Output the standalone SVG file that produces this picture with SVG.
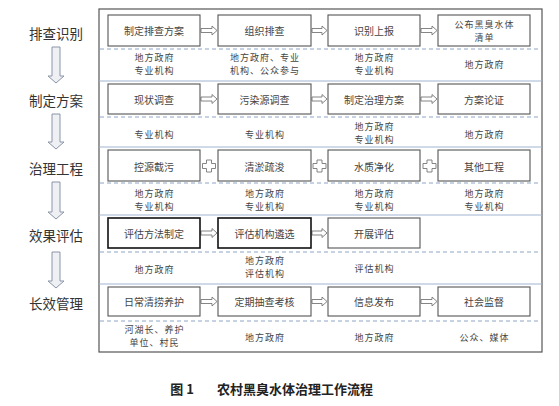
<svg xmlns="http://www.w3.org/2000/svg" width="559" height="406" viewBox="0 0 559 406">
<style>
text{font-family:"Noto Sans CJK SC","Noto Sans",sans-serif;text-anchor:middle;dominant-baseline:central;}
.lab{font-size:13.5px;fill:#333;}
.bt{font-size:10px;fill:#444;}
.bt2{font-size:9px;letter-spacing:1px;fill:#444;}
.st{font-size:9px;letter-spacing:1px;fill:#444;}
.box{fill:#fff;stroke:#555;stroke-width:1.1;}
.boxk{fill:#fff;stroke:#111;stroke-width:1.6;}
.sep{stroke:#9fb3cf;stroke-width:1;}
.dash{stroke:#8ea4c6;stroke-width:1;stroke-dasharray:4,3;}
.harr{fill:#fff;stroke:#777;stroke-width:0.9;}
.varr{fill:#eef0f4;stroke:#8a95a8;stroke-width:1;}
.cap{font-size:13px;fill:#222;font-weight:bold;}
</style>
<rect x="0" y="0" width="559" height="406" fill="#fff"/>
<rect x="99" y="9" width="443" height="343" fill="#fff" stroke="#555" stroke-width="1.2"/>
<g id="separators">
<line class="sep" x1="99" y1="81" x2="542" y2="81"/>
<line class="sep" x1="99" y1="147" x2="542" y2="147"/>
<line class="sep" x1="99" y1="215" x2="542" y2="215"/>
<line class="sep" x1="99" y1="284" x2="542" y2="284"/>
<line class="dash" x1="100" y1="49" x2="541" y2="49"/>
<line class="dash" x1="100" y1="117" x2="541" y2="117"/>
<line class="dash" x1="100" y1="183" x2="541" y2="183"/>
<line class="dash" x1="100" y1="252" x2="541" y2="252"/>
<line class="dash" x1="100" y1="321" x2="541" y2="321"/>
</g>
<g id="stages">
<text class="lab" x="56" y="33">排查识别</text>
<text class="lab" x="56" y="100">制定方案</text>
<text class="lab" x="56" y="168">治理工程</text>
<text class="lab" x="56" y="235">效果评估</text>
<text class="lab" x="56" y="303">长效管理</text>
</g>
<g id="connectors">
<path class="varr" d="M52,47 H60 V76 H64 L56,83 L48,76 H52 Z"/>
<path class="varr" d="M52,114 H60 V142 H64 L56,149 L48,142 H52 Z"/>
<path class="varr" d="M52,182 H60 V212 H64 L56,219 L48,212 H52 Z"/>
<path class="varr" d="M52,252 H60 V281 H64 L56,288 L48,281 H52 Z"/>
<path class="harr" d="M201,28.5 H212 V26 L217,30.5 L212,35 V32.5 H201 Z"/>
<path class="harr" d="M312,28.5 H322 V26 L327,30.5 L322,35 V32.5 H312 Z"/>
<path class="harr" d="M421,28.5 H432 V26 L437,30.5 L432,35 V32.5 H421 Z"/>
<path class="harr" d="M201,97 H212 V94.5 L217,99 L212,103.5 V101 H201 Z"/>
<path class="harr" d="M312,97 H322 V94.5 L327,99 L322,103.5 V101 H312 Z"/>
<path class="harr" d="M421,97 H432 V94.5 L437,99 L432,103.5 V101 H421 Z"/>
<path class="harr" d="M202.5,163.5 H206.5 V160 H211.5 V163.5 H215.5 V168.5 H211.5 V172 H206.5 V168.5 H202.5 Z"/>
<path class="harr" d="M313,163.5 H317 V160 H322 V163.5 H326 V168.5 H322 V172 H317 V168.5 H313 Z"/>
<path class="harr" d="M423,163.5 H427 V160 H432 V163.5 H436 V168.5 H432 V172 H427 V168.5 H423 Z"/>
<path class="harr" d="M201,231 H212 V228.5 L217,233 L212,237.5 V235 H201 Z"/>
<path class="harr" d="M312,231 H322 V228.5 L327,233 L322,237.5 V235 H312 Z"/>
<path class="harr" d="M201,299.5 H212 V297 L217,301.5 L212,306 V303.5 H201 Z"/>
<path class="harr" d="M312,299.5 H322 V297 L327,301.5 L322,306 V303.5 H312 Z"/>
<path class="harr" d="M421,299.5 H432 V297 L437,301.5 L432,306 V303.5 H421 Z"/>
</g>
<g id="r1n1"><rect class="box" x="108" y="15" width="92" height="31"/><text class="bt" x="154" y="30.5">制定排查方案</text></g>
<g id="r1n2"><rect class="box" x="218" y="15" width="93" height="31"/><text class="bt" x="264.5" y="30.5">组织排查</text></g>
<g id="r1n3"><rect class="box" x="328" y="15" width="92" height="31"/><text class="bt" x="374" y="30.5">识别上报</text></g>
<g id="r1n4"><rect class="box" x="438" y="15" width="92" height="31"/><text class="bt2" x="484.5" y="24">公布黑臭水体</text><text class="bt2" x="484.5" y="37.5">清单</text></g>
<g id="r1t">
<text class="st" x="154.5" y="57.5">地方政府</text><text class="st" x="154.5" y="70.5">专业机构</text>
<text class="st" x="265" y="57.5">地方政府、专业</text><text class="st" x="265" y="70.5">机构、公众参与</text>
<text class="st" x="374.5" y="57.5">地方政府</text><text class="st" x="374.5" y="70.5">专业机构</text>
<text class="st" x="484.5" y="64">地方政府</text>
</g>
<g id="r2n1"><rect class="box" x="108" y="84" width="92" height="30"/><text class="bt" x="154" y="99">现状调查</text></g>
<g id="r2n2"><rect class="box" x="218" y="84" width="93" height="30"/><text class="bt" x="264.5" y="99">污染源调查</text></g>
<g id="r2n3"><rect class="box" x="328" y="84" width="92" height="30"/><text class="bt" x="374" y="99">制定治理方案</text></g>
<g id="r2n4"><rect class="box" x="438" y="84" width="92" height="30"/><text class="bt" x="484" y="99">方案论证</text></g>
<g id="r2t">
<text class="st" x="154.5" y="134">专业机构</text>
<text class="st" x="265" y="134">专业机构</text>
<text class="st" x="374.5" y="126.5">地方政府</text><text class="st" x="374.5" y="139.5">专业机构</text>
<text class="st" x="484.5" y="134">地方政府</text>
</g>
<g id="r3n1"><rect class="box" x="108" y="150" width="92" height="31"/><text class="bt" x="154" y="166">控源截污</text></g>
<g id="r3n2"><rect class="box" x="218" y="150" width="93" height="31"/><text class="bt" x="264.5" y="166">清淤疏浚</text></g>
<g id="r3n3"><rect class="box" x="328" y="150" width="92" height="31"/><text class="bt" x="374" y="166">水质净化</text></g>
<g id="r3n4"><rect class="box" x="438" y="150" width="92" height="31"/><text class="bt" x="484" y="166">其他工程</text></g>
<g id="r3t">
<text class="st" x="154.5" y="193">地方政府</text><text class="st" x="154.5" y="206">专业机构</text>
<text class="st" x="265" y="193">地方政府</text><text class="st" x="265" y="206">专业机构</text>
<text class="st" x="374.5" y="193">地方政府</text><text class="st" x="374.5" y="206">专业机构</text>
<text class="st" x="484.5" y="193">地方政府</text><text class="st" x="484.5" y="206">专业机构</text>
</g>
<g id="r4n1"><rect class="boxk" x="108" y="218" width="92" height="30"/><text class="bt" x="154" y="233">评估方法制定</text></g>
<g id="r4n2"><rect class="boxk" x="218" y="218" width="93" height="30"/><text class="bt" x="264.5" y="233">评估机构遴选</text></g>
<g id="r4n3"><rect class="box" x="328" y="218" width="92" height="30"/><text class="bt" x="374" y="233">开展评估</text></g>
<g id="r4t">
<text class="st" x="154.5" y="269">地方政府</text>
<text class="st" x="265" y="260">地方政府</text><text class="st" x="265" y="273">评估机构</text>
<text class="st" x="374.5" y="268">评估机构</text>
</g>
<g id="r5n1"><rect class="box" x="108" y="287" width="92" height="29"/><text class="bt" x="154" y="301.5">日常清捞养护</text></g>
<g id="r5n2"><rect class="box" x="218" y="287" width="93" height="29"/><text class="bt" x="264.5" y="301.5">定期抽查考核</text></g>
<g id="r5n3"><rect class="box" x="328" y="287" width="92" height="29"/><text class="bt" x="374" y="301.5">信息发布</text></g>
<g id="r5n4"><rect class="box" x="438" y="287" width="92" height="29"/><text class="bt" x="484" y="301.5">社会监督</text></g>
<g id="r5t">
<text class="st" x="154.5" y="329.5">河湖长、养护</text><text class="st" x="154.5" y="342.5">单位、村民</text>
<text class="st" x="265" y="337">地方政府</text>
<text class="st" x="374.5" y="337">地方政府</text>
<text class="st" x="484.5" y="337">公众、媒体</text>
</g>
<g id="caption">
<text class="cap" x="182" y="388">图 1</text>
<text class="cap" x="295" y="388">农村黑臭水体治理工作流程</text>
</g>
</svg>
